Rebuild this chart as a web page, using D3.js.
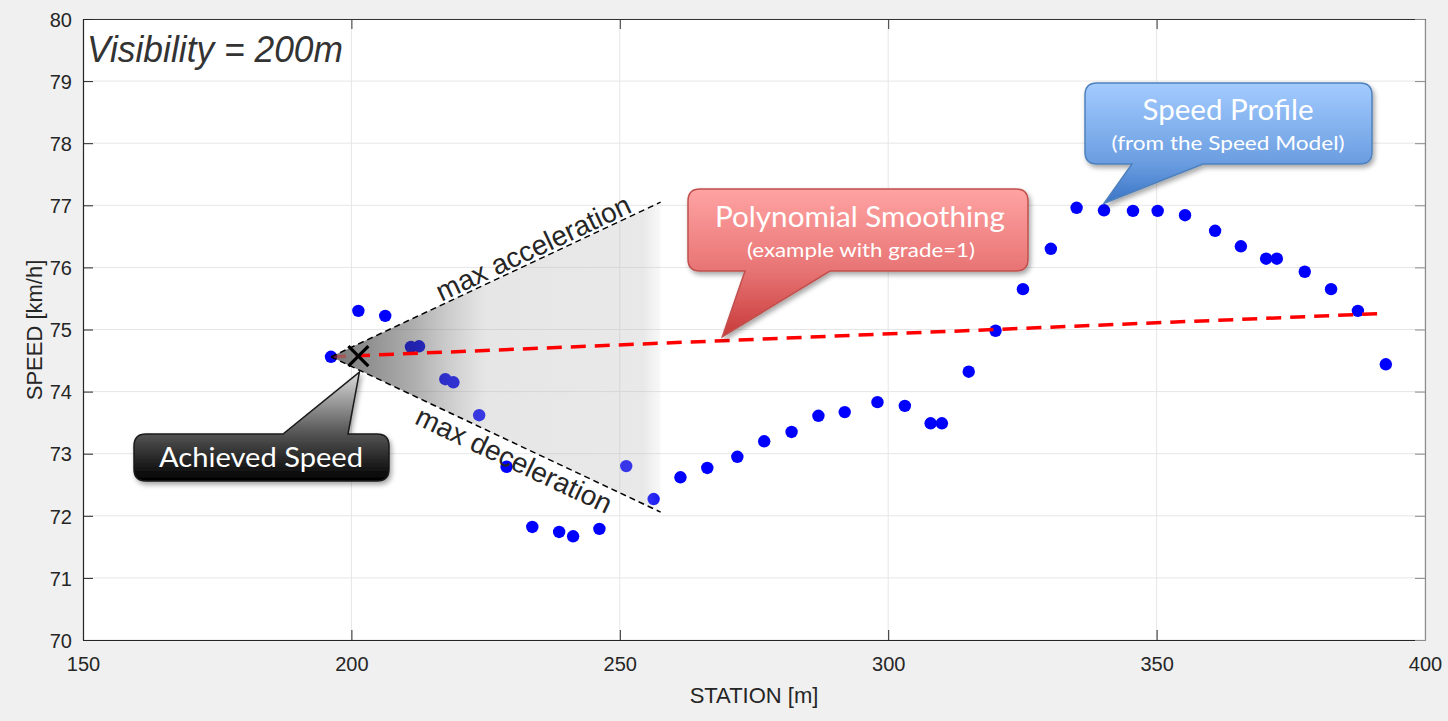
<!DOCTYPE html>
<html>
<head>
<meta charset="utf-8">
<script src="https://cdn.jsdelivr.net/npm/d3@7"></script>
<style>
  html, body { margin: 0; padding: 0; background: #f0f0f0; }
  svg { display: block; }
</style>
</head>
<body>
<svg id="chart" width="1448" height="721"></svg>
<script>
// ---------- data ----------
const stations = [196.2, 201.3, 206.3, 211.1, 212.6, 217.5, 219.0, 223.8, 228.9, 233.7,
  238.7, 241.3, 246.2, 251.2, 256.3, 261.3, 266.3, 271.9, 276.9, 282.0,
  287.0, 291.9, 298.0, 303.1, 307.9, 310.0, 315.0, 320.0, 325.1, 330.3,
  335.1, 340.2, 345.6, 350.2, 355.3, 360.9, 365.7, 370.4, 372.4, 377.6,
  382.5, 387.5, 392.7];
const speeds = [74.56, 75.30, 75.22, 74.72, 74.73, 74.20, 74.15, 73.62, 72.79, 71.82,
  71.74, 71.67, 71.79, 72.80, 72.27, 72.62, 72.77, 72.95, 73.20, 73.35,
  73.61, 73.67, 73.83, 73.77, 73.49, 73.49, 74.32, 74.98, 75.65, 76.30,
  76.96, 76.92, 76.91, 76.91, 76.84, 76.59, 76.34, 76.14, 76.14, 75.93,
  75.65, 75.30, 74.44];
const smoothStation = [196.2, 392.7];
const smoothSpeed = [74.56, 75.26];
const achievedStation = [201.3];
const achievedSpeed = [74.57];
const coneStation = [196.2, 257.6];
const coneUpper = [74.56, 77.05];
const coneLower = [74.56, 72.06];
const xTicks = [150, 200, 250, 300, 350, 400];
const yTicks = [70, 71, 72, 73, 74, 75, 76, 77, 78, 79, 80];
const titleText = "Visibility = 200m";
const xLabel = "STATION [m]";
const yLabel = "SPEED [km/h]";

// ---------- layout ----------
const W = 1448, H = 721;
const L = 83, R = 1425, T = 19, B = 640;
const svg = d3.select("#chart");
const x = d3.scaleLinear().domain([150, 400]).range([L, R]);
const y = d3.scaleLinear().domain([70, 80]).range([B, T]);

svg.append("rect").attr("width", W).attr("height", H).attr("fill", "#f0f0f0");
svg.append("rect").attr("x", L).attr("y", T).attr("width", R - L).attr("height", B - T).attr("fill", "#fff");

const defs = svg.append("defs");

// grid
const grid = svg.append("g");
grid.selectAll(".gx").data(xTicks).join("line")
  .attr("x1", d => x(d)).attr("x2", d => x(d)).attr("y1", T).attr("y2", B)
  .attr("stroke", "#e6e6e6").attr("stroke-width", 1);
grid.selectAll(".gy").data(yTicks).join("line")
  .attr("y1", d => y(d)).attr("y2", d => y(d)).attr("x1", L).attr("x2", R)
  .attr("stroke", "#e6e6e6").attr("stroke-width", 1);

// axes
const fontAx = "'Liberation Sans', Arial, Helvetica, sans-serif";
const xAxisB = d3.axisBottom(x).tickValues(xTicks).tickSizeInner(-10).tickSizeOuter(0).tickPadding(17).tickFormat(d3.format("d"));
const xAxisT = d3.axisTop(x).tickValues(xTicks).tickSizeInner(-10).tickSizeOuter(0).tickFormat("");
const yAxisL = d3.axisLeft(y).tickValues(yTicks).tickSizeInner(-10).tickSizeOuter(0).tickPadding(11).tickFormat(d3.format("d"));
const yAxisR = d3.axisRight(y).tickValues(yTicks).tickSizeInner(-10).tickSizeOuter(0).tickFormat("");

function styleAxis(g, col) {
  g.select(".domain").attr("stroke", col).attr("stroke-width", 1.2);
  g.selectAll(".tick line").attr("stroke", col).attr("stroke-width", 1);
  g.selectAll(".tick text").attr("fill", "#262626").style("font-family", fontAx).style("font-size", "20px");
}
const gxb = svg.append("g").attr("transform", `translate(0,${B})`).call(xAxisB); styleAxis(gxb, "#262626");
const gxt = svg.append("g").attr("transform", `translate(0,${T})`).call(xAxisT); styleAxis(gxt, "#333");
const gyl = svg.append("g").attr("transform", `translate(${L},0)`).call(yAxisL); styleAxis(gyl, "#262626");
const gyr = svg.append("g").attr("transform", `translate(${R},0)`).call(yAxisR); styleAxis(gyr, "#8c8c8c");
gyl.selectAll(".tick text").attr("dy", "0.36em");

// axis labels
svg.append("text").attr("x", (L + R) / 2).attr("y", 703).attr("text-anchor", "middle")
  .attr("fill", "#262626").style("font-family", fontAx).style("font-size", "22px").text(xLabel);
svg.append("text").attr("transform", `translate(42,330) rotate(-90)`).attr("text-anchor", "middle")
  .attr("fill", "#262626").style("font-family", fontAx).style("font-size", "22px").text(yLabel);

// title
svg.append("text").attr("x", 87).attr("y", 62).attr("fill", "#333")
  .style("font-family", fontAx).style("font-style", "italic").style("font-size", "36px")
  .attr("textLength", 256).attr("lengthAdjust", "spacingAndGlyphs").text(titleText);

// ---------- dots ----------
svg.append("g").selectAll("circle").data(stations.map((s, i) => [s, speeds[i]])).join("circle")
  .attr("cx", d => x(d[0])).attr("cy", d => y(d[1])).attr("r", 6.2).attr("fill", "#0000ff");

// ---------- cone ----------
const apex = [x(coneStation[0]), y(coneUpper[0])];
const upEnd = [x(coneStation[1]), y(coneUpper[1])];
const loEnd = [x(coneStation[1]), y(coneLower[1])];
const cg = defs.append("linearGradient").attr("id", "coneGrad").attr("gradientUnits", "userSpaceOnUse")
  .attr("x1", apex[0]).attr("x2", upEnd[0]).attr("y1", 0).attr("y2", 0);
[[0, "#2a2a2a", 0.65], [0.25, "#4a4a4a", 0.45], [0.47, "#b0b0b0", 0.32], [0.95, "#b5b5b5", 0.3], [1, "#c8c8c8", 0.12]]
  .forEach(s => cg.append("stop").attr("offset", s[0]).attr("stop-color", s[1]).attr("stop-opacity", s[2]));
svg.append("path").attr("d", d3.line()([apex, upEnd, loEnd])).attr("fill", "url(#coneGrad)");

// smoothing line
const lineGen = d3.line().x(d => x(d[0])).y(d => y(d[1]));
const smoothData = smoothStation.map((s, i) => [s, smoothSpeed[i]]);
defs.append("clipPath").attr("id", "clipL").append("rect").attr("x", 0).attr("y", 0).attr("width", x(achievedStation[0])).attr("height", H);
defs.append("clipPath").attr("id", "clipR").append("rect").attr("x", x(achievedStation[0])).attr("y", 0).attr("width", W).attr("height", H);
svg.append("path").attr("d", lineGen(smoothData)).attr("fill", "none").attr("stroke", "#ff0000")
  .attr("stroke-width", 3.5).attr("stroke-dasharray", "15 9").attr("opacity", 0.3).attr("clip-path", "url(#clipL)");
svg.append("path").attr("d", lineGen(smoothData)).attr("fill", "none").attr("stroke", "#ff0000")
  .attr("stroke-width", 3.5).attr("stroke-dasharray", "15 9").attr("clip-path", "url(#clipR)");

// cone edges
[upEnd, loEnd].forEach(e => {
  svg.append("line").attr("x1", apex[0]).attr("y1", apex[1]).attr("x2", e[0]).attr("y2", e[1])
    .attr("stroke", "#000").attr("stroke-width", 1.5).attr("stroke-dasharray", "6 4");
});

// cone labels
function edgeLabel(end, frac, dy, txt) {
  const ang = Math.atan2(end[1] - apex[1], end[0] - apex[0]) * 180 / Math.PI;
  const px = apex[0] + (end[0] - apex[0]) * frac, py = apex[1] + (end[1] - apex[1]) * frac;
  svg.append("text").attr("transform", `translate(${px},${py}) rotate(${ang})`)
    .attr("text-anchor", "middle").attr("dy", dy).attr("fill", "#262626")
    .style("font-family", fontAx).style("font-size", "28px").text(txt);
}
edgeLabel(upEnd, 0.63, -3, "max acceleration");
edgeLabel(loEnd, 0.575, 25, "max deceleration");

// achieved speed X
const ax = x(achievedStation[0]), ay = y(achievedSpeed[0]);
svg.append("path").attr("d", `M${ax - 10},${ay - 10}L${ax + 10},${ay + 10}M${ax - 10},${ay + 10}L${ax + 10},${ay - 10}`)
  .attr("stroke", "#000").attr("stroke-width", 3.2).attr("fill", "none");

// ---------- callouts ----------
const shadow = defs.append("filter").attr("id", "shadow").attr("x", "-20%").attr("y", "-20%").attr("width", "140%").attr("height", "150%");
shadow.append("feDropShadow").attr("dx", 2).attr("dy", 3).attr("stdDeviation", 2.5).attr("flood-color", "#000").attr("flood-opacity", 0.35);

function calloutPath(x0, y0, x1, y1, r, side, b0, b1, tx, ty) {
  let p = `M${x0 + r},${y0}`;
  if (side === "top") p += `L${b0},${y0}L${tx},${ty}L${b1},${y0}`;
  p += `L${x1 - r},${y0}Q${x1},${y0} ${x1},${y0 + r}L${x1},${y1 - r}Q${x1},${y1} ${x1 - r},${y1}`;
  if (side === "bottom") p += `L${b1},${y1}L${tx},${ty}L${b0},${y1}`;
  p += `L${x0 + r},${y1}Q${x0},${y1} ${x0},${y1 - r}L${x0},${y0 + r}Q${x0},${y0} ${x0 + r},${y0}Z`;
  return p;
}
function grad(id, stops) {
  const g = defs.append("linearGradient").attr("id", id).attr("x1", 0).attr("x2", 0).attr("y1", 0).attr("y2", 1);
  stops.forEach(s => g.append("stop").attr("offset", s[0]).attr("stop-color", s[1]));
}
grad("redGrad", [[0, "#ffa3a3"], [0.55, "#e87474"], [1, "#c83a3a"]]);
grad("blueGrad", [[0, "#a3cbff"], [0.67, "#6a9de0"], [1, "#3a74c6"]]);
grad("blackGrad", [[0, "#dcdcdc"], [0.56, "#555555"], [1, "#000000"]]);

const fontC = "Lato, 'Open Sans', sans-serif";
function callout(cfg) {
  svg.append("path").attr("d", calloutPath(...cfg.box, 12, cfg.side, cfg.base[0], cfg.base[1], cfg.tip[0], cfg.tip[1]))
    .attr("fill", cfg.fill).attr("stroke", cfg.stroke).attr("stroke-width", 1.5).attr("filter", "url(#shadow)");
  cfg.lines.forEach(l => {
    svg.append("text").attr("x", l.x).attr("y", l.y).attr("text-anchor", "middle").attr("fill", "#fff")
      .style("font-family", fontC).style("font-size", l.size + "px")
      .attr("textLength", l.len).attr("lengthAdjust", "spacingAndGlyphs").text(l.t);
  });
}
// red: tip on smoothing line
const redTipX = x(269.1), redTipY = y(smoothSpeed[0] + (269.1 - smoothStation[0]) * (smoothSpeed[1] - smoothSpeed[0]) / (smoothStation[1] - smoothStation[0])) - 4;
callout({ box: [688, 189, 1028, 271], side: "bottom", base: [745, 830], tip: [redTipX, redTipY],
  fill: "url(#redGrad)", stroke: "#c0504d",
  lines: [{ t: "Polynomial Smoothing", x: 860, y: 227, size: 29, len: 290 },
          { t: "(example with grade=1)", x: 861, y: 257, size: 20, len: 228 }] });
// blue: tip at a speed profile point
callout({ box: [1085, 83, 1372, 164], side: "bottom", base: [1132, 1203], tip: [x(stations[31]), y(speeds[31]) - 7],
  fill: "url(#blueGrad)", stroke: "#4f81bd",
  lines: [{ t: "Speed Profile", x: 1228, y: 120, size: 29, len: 171 },
          { t: "(from the Speed Model)", x: 1228, y: 150, size: 20, len: 233 }] });
// black: tip at achieved speed
callout({ box: [134, 434, 389, 481], side: "top", base: [283, 348], tip: [ax + 1, ay + 16],
  fill: "url(#blackGrad)", stroke: "#1a1a1a",
  lines: [{ t: "Achieved Speed", x: 261, y: 467, size: 26, len: 204 }] });
</script>
</body>
</html>
